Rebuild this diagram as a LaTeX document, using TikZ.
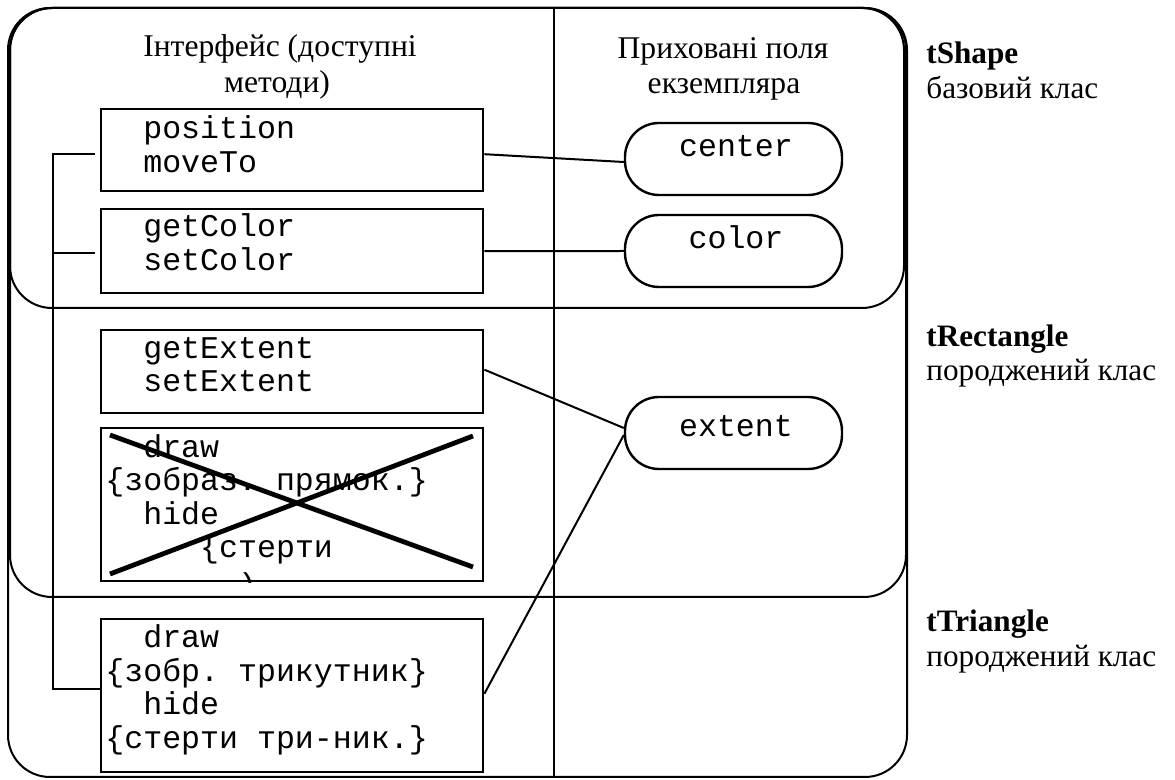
\documentclass[tikz,border=0pt]{standalone}
\usepackage{fontspec}
\setmainfont{Liberation Serif}
\setmonofont{Liberation Mono}
\begin{document}
\begin{tikzpicture}[x=0.5pt,y=-0.5pt,
  frame/.style={draw,line width=1pt,rounded corners=21pt},
  mbox/.style={draw,line width=1.2pt,rectangle,anchor=north west,inner sep=0pt,minimum width=191pt},
  field/.style={draw,line width=1.2pt,rectangle,rounded corners=17pt,minimum width=108.5pt,minimum height=36pt,inner sep=0pt},
  conn/.style={line width=1pt},
  xline/.style={line width=2.4pt},
  code/.style={font=\ttfamily\fontsize{15.8}{17}\selectfont,anchor=base west,inner sep=0pt},
  fname/.style={font=\ttfamily\fontsize{15.8}{17}\selectfont,anchor=base,inner sep=0pt},
  head/.style={font=\fontsize{15.8}{18}\selectfont,anchor=base,inner sep=0pt},
  cls/.style={font=\fontsize{15.6}{18}\selectfont,anchor=base west,inner sep=0pt}]
\useasboundingbox (0,0) rectangle (1175,780);

% class frames: tShape inside tRectangle inside tTriangle
\draw[frame] (10,8) rectangle (904,308);
\draw[frame] (10,8) rectangle (906,597);
\draw[frame] (8,8) rectangle (907,777);
% column divider
\draw[conn] (554,8) -- (554,777);

% column headings
\node[head] (h1) at (280,57) {Інтерфейс (доступні};
\node[head] (h2) at (277,93) {методи)};
\node[head] (h3) at (723,59) {Приховані поля};
\node[head] (h4) at (724,94) {екземпляра};

% class names
\node[cls,font=\bfseries\fontsize{15.6}{18}\selectfont] (c1) at (926,64) {tShape};
\node[cls] (c2) at (926,99) {базовий клас};
\node[cls,font=\bfseries\fontsize{15.6}{18}\selectfont] (c3) at (926,347) {tRectangle};
\node[cls] (c4) at (926,381) {породжений клас};
\node[cls,font=\bfseries\fontsize{15.6}{18}\selectfont] (c5) at (926,632) {tTriangle};
\node[cls] (c6) at (926,667) {породжений клас};

% method boxes
\node[mbox,minimum height=41pt] (A) at (100,108) {};
\node[mbox,minimum height=42pt] (B) at (100,208) {};
\node[mbox,minimum height=41.5pt] (C) at (100,329) {};
\node[mbox,minimum height=76.5pt] (D) at (100,427) {};
\node[mbox,minimum height=76.5pt] (E) at (100,618) {};

\node[code] (a1) at (105,139) {\hphantom{xx}position};
\node[code] (a2) at (105,173) {\hphantom{xx}moveTo};
\node[code] (b1) at (105,237) {\hphantom{xx}getColor};
\node[code] (b2) at (105,271) {\hphantom{xx}setColor};
\node[code] (k1) at (105,359) {\hphantom{xx}getExtent};
\node[code] (k2) at (105,392) {\hphantom{xx}setExtent};
\begin{scope}
  \clip (D.north west) rectangle (D.south east);
  \node[code] (d1) at (105,458) {\hphantom{xx}draw};
  \node[code] (d2) at (105,491) {\{зобраз. прямок.\}};
  \node[code] (d3) at (105,525) {\hphantom{xx}hide};
  \node[code] (d4) at (105,558) {\hphantom{xxxxx}\{стерти};
  \node[code] (d5) at (105,596) {\hphantom{xxxxxxx})};
\end{scope}
\node[code] (e1) at (105,648) {\hphantom{xx}draw};
\node[code] (e2) at (105,682) {\{зобр. трикутник\}};
\node[code] (e3) at (105,715) {\hphantom{xx}hide};
\node[code] (e4) at (105,749) {\{стерти три-ник.\}};

% overridden method crossed out
\draw[xline] (110,435) -- (473,567);
\draw[xline] (110,574) -- (473,436);

% hidden fields
\node[field] (fc) at (733.5,159) {};
\node[field] (fk) at (733.5,251) {};
\node[field] (fe) at (733.5,433) {};
\node[fname] (tc) at (736,157) {center};
\node[fname] (tk) at (736,249) {color};
\node[fname] (te) at (736,437) {extent};

% methods to fields
\draw[conn] ([yshift=-2pt]A.east) -- ([yshift=-1.5pt]fc.west);
\draw[conn] (B.east) -- (fk.west);
\draw[conn] ([yshift=1pt]C.east) -- ([yshift=2.5pt]fe.west);
\draw[conn] ([yshift=1pt]E.east) -- ([yshift=-1pt]fe.west);

% inheritance bracket on the left
\draw[conn] ([yshift=-2pt,xshift=-2.5pt]A.west) -- ++(-42,0) |- ([yshift=3.25pt]E.west);
\draw[conn] ([yshift=-1pt,xshift=-2.5pt]B.west) -- ++(-42,0);
\end{tikzpicture}
\end{document}
